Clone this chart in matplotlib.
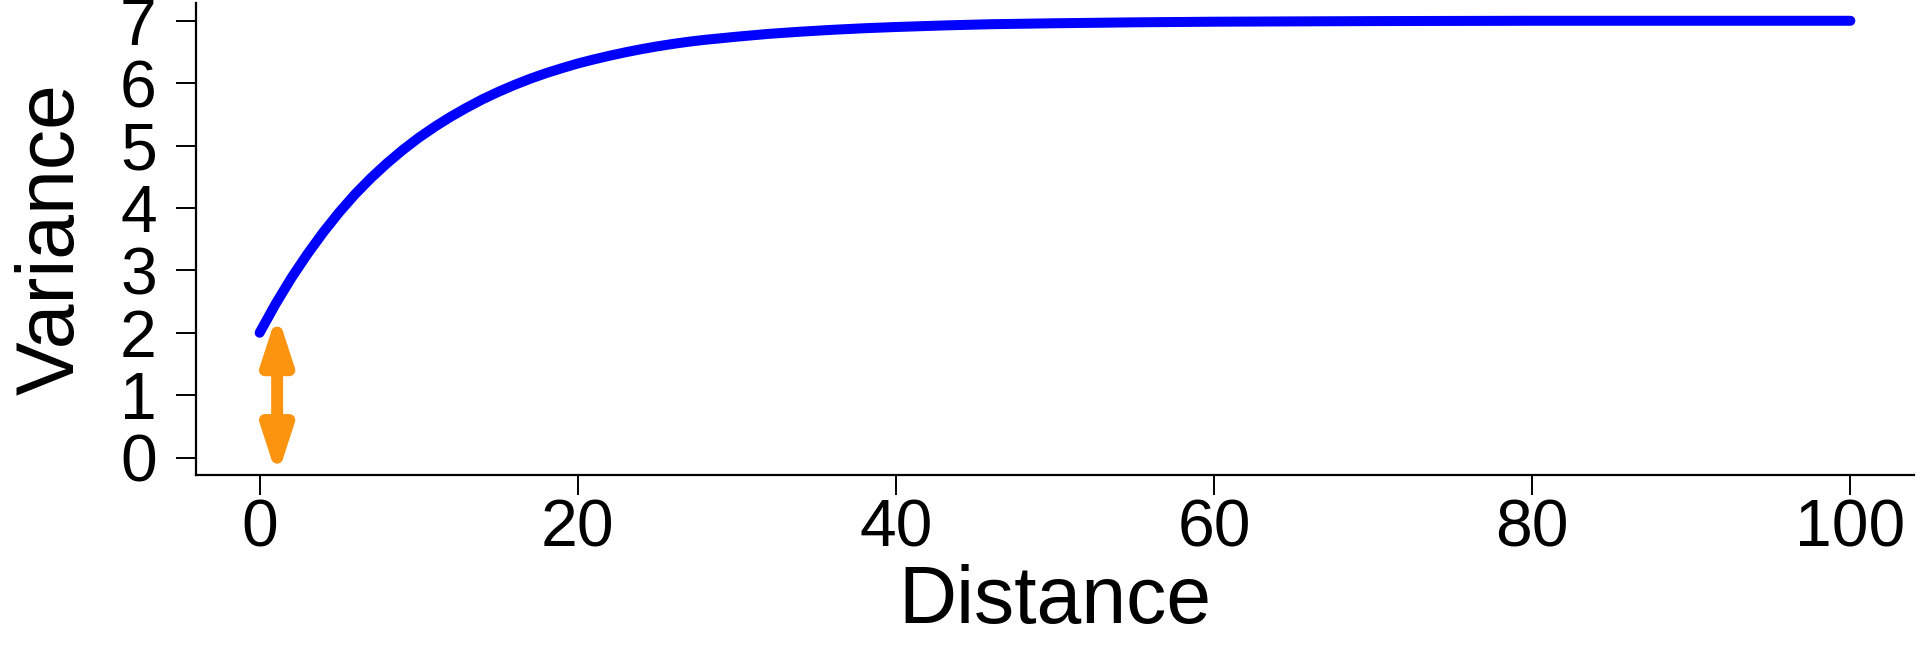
import matplotlib
matplotlib.use("Agg")
import numpy as np
import matplotlib.pyplot as plt
from matplotlib.patches import FancyArrowPatch

plt.rcParams["font.family"] = ["Liberation Sans", "DejaVu Sans"]

# semivariogram curve
distance = [0, 1, 2, 3, 4, 5, 6, 7, 8, 9, 10, 11, 12, 13, 14, 15, 16, 17, 18, 19,
            20, 21, 22, 23, 24, 25, 26, 27, 28, 29, 30, 32, 34, 36, 38, 40, 43, 46,
            50, 55, 60, 65, 70, 80, 90, 100]
variance = [2.00, 2.46, 2.88, 3.26, 3.61, 3.93, 4.22, 4.48, 4.715, 4.93,
            5.125, 5.30, 5.46, 5.605, 5.74, 5.86, 5.97, 6.07, 6.16, 6.24,
            6.315, 6.38, 6.44, 6.495, 6.545, 6.59, 6.63, 6.665, 6.695, 6.72,
            6.745, 6.79, 6.825, 6.855, 6.88, 6.90, 6.925, 6.945,
            6.96, 6.975, 6.985, 6.99, 6.995, 7.00, 7.00, 7.00]

# nugget arrow
nugget_x = 1.1
nugget_lo, nugget_hi = 0, 2

x_ticks = [0, 20, 40, 60, 80, 100]
y_ticks = [0, 1, 2, 3, 4, 5, 6, 7]

DPI = 100
fig = plt.figure(figsize=(19.2, 6.72), dpi=DPI)
ax = fig.add_axes([196 / 1920, 1 - 475 / 672, (1914 - 196) / 1920, (475 - 3.3) / 672])

ax.set_xlim(-4, 104)
ax.set_ylim(-0.28, 7.28)

ax.plot(distance, variance, color="#0000ff", lw=7.2, solid_capstyle="round",
        solid_joinstyle="round")

# double headed arrow; matplotlib pulls the heads back by 0.5*lw/sin(t),
# so push the end points out by the same amount to keep the tips on 0 and 2
arrow_lw = 8.6
head_len, head_w = 27.0, 8.8  # points
sin_t = head_w / np.hypot(head_len, head_w)
pad_px = 0.5 * arrow_lw * DPI / 72 / sin_t
p0 = ax.transData.transform((nugget_x, nugget_lo))
p1 = ax.transData.transform((nugget_x, nugget_hi))
u = (p1 - p0) / np.hypot(*(p1 - p0))
inv = ax.transData.inverted()
a0 = inv.transform(p0 - u * pad_px)
a1 = inv.transform(p1 + u * pad_px)
arrow = FancyArrowPatch(tuple(a0), tuple(a1),
                        arrowstyle=f"<|-|>,head_length={head_len},head_width={head_w}",
                        color="#fd9410", lw=arrow_lw, shrinkA=0, shrinkB=0,
                        capstyle="round", joinstyle="round", mutation_scale=1)
ax.add_patch(arrow)

ax.set_xticks(x_ticks)
ax.set_yticks(y_ticks)
ax.tick_params(axis="both", length=14.2, width=1.4, labelsize=47.5, color="black")
ax.tick_params(axis="y", pad=14)
ax.tick_params(axis="x", pad=2.5)

for s in ["top", "right"]:
    ax.spines[s].set_visible(False)
for s in ["left", "bottom"]:
    ax.spines[s].set_linewidth(1.6)

fig.text(1055 / 1920, 1 - 622.7 / 672, "Distance", fontsize=58,
         ha="center", va="baseline")
fig.text(52.6 / 1920, 1 - 239 / 672, "Variance", fontsize=58, rotation=90,
         ha="center", va="center")

fig.savefig("out.png", dpi=DPI)
